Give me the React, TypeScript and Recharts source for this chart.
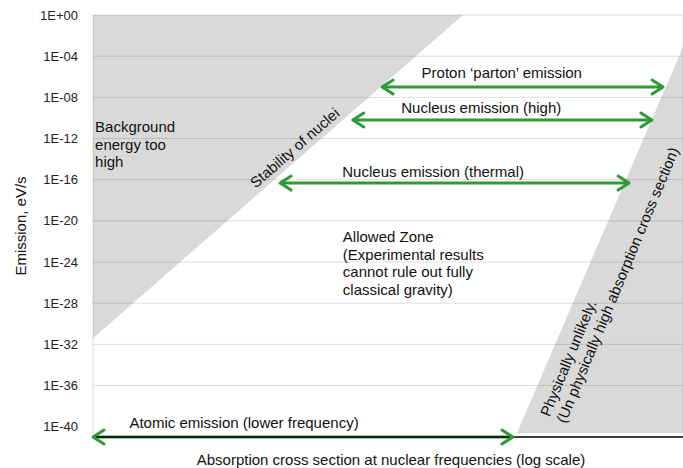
import React from 'react';
import { ComposedChart, Area, Line, XAxis, YAxis, CartesianGrid, ReferenceDot } from 'recharts';

// x = absorption cross section (log, arbitrary units; one gridline per unit)
// y = log10 of emission in eV/s
const xTicks = [1, 2, 3, 4, 5, 6, 7, 8, 9, 10];
const yTicks = [-40, -36, -32, -28, -24, -20, -16, -12, -8, -4, 0];
const gridRows = [-36, -32, -28, -24, -20, -16, -12, -8, -4, 0];

// excluded zones, as [low, high] ranges
const backgroundZone = [
  { x: 0.76, range: [-31.4, 0] },
  { x: 7.07, range: [0, 0] },
];
const unlikelyZone = [
  { x: 7.99, range: [-40.6, -40.6] },
  { x: 10.82, range: [-40.6, -3.1] },
];

// emission ranges (double headed arrows)
const protonArrow = [{ x: 5.69, y: -7.0 }, { x: 10.48, y: -7.0 }];
const nucleusHighArrow = [{ x: 5.19, y: -10.2 }, { x: 10.29, y: -10.2 }];
const nucleusThermalArrow = [{ x: 3.95, y: -16.33 }, { x: 9.9, y: -16.33 }];
const atomicArrow = [{ x: 0.76, y: -41 }, { x: 7.92, y: -41 }];

const notes = [
  { x: 0.795, y: -10.9, lines: ['Background', 'energy too', 'high'], anchor: 'start', angle: 0 },
  { x: 4.2, y: -12.9, lines: ['Stability of nuclei'], anchor: 'middle', angle: -41 },
  { x: 7.73, y: -5.64, lines: ['Proton \u2018parton\u2019 emission'], anchor: 'middle', angle: 0 },
  { x: 7.38, y: -9.04, lines: ['Nucleus emission (high)'], anchor: 'middle', angle: 0 },
  { x: 6.56, y: -15.26, lines: ['Nucleus emission (thermal)'], anchor: 'middle', angle: 0 },
  {
    x: 5.02,
    y: -21.57,
    lines: ['Allowed Zone', '(Experimental results', 'cannot rule out fully', 'classical gravity)'],
    anchor: 'start',
    angle: 0,
  },
  { x: 3.335, y: -39.65, lines: ['Atomic emission (lower frequency)'], anchor: 'middle', angle: 0 },
  {
    x: 8.46,
    y: -38.9,
    lines: ['Physically unlikely.', '(Un physically high absorption cross section)'],
    anchor: 'start',
    angle: -67.5,
  },
];

const GREEN = '#2e9a38';
const FONT = '"Liberation Sans", Arial, Helvetica, sans-serif';

const fmtExp = (v: number) => (v === 0 ? '1E+00' : `1E-${String(-v).padStart(2, '0')}`);

const ArrowHead = (props: any) => {
  const { cx, cy, index } = props;
  if (cx == null || cy == null) return null;
  const dir = index === 0 ? 1 : -1;
  return (
    <path
      key={`head-${index}`}
      d={`M${cx + dir * 11},${cy - 7} L${cx},${cy} L${cx + dir * 11},${cy + 7}`}
      fill="none"
      stroke={GREEN}
      strokeWidth={3}
      strokeLinecap="round"
      strokeLinejoin="round"
    />
  );
};

const Note = ({ viewBox, lines, anchor, angle }: any) => {
  if (!viewBox) return null;
  const x = viewBox.x;
  const y = viewBox.y;
  return (
    <text
      x={x}
      y={y}
      textAnchor={anchor}
      fontSize={15}
      fill="#111"
      transform={angle ? `rotate(${angle}, ${x}, ${y})` : undefined}
    >
      {lines.map((l: string, i: number) => (
        <tspan key={i} x={x} dy={i === 0 ? '0.35em' : 17.5}>
          {l}
        </tspan>
      ))}
    </text>
  );
};

const arrows = [protonArrow, nucleusHighArrow, nucleusThermalArrow, atomicArrow];

export default function App() {
  return (
    <div style={{ position: 'absolute', left: 0, top: 0, fontFamily: FONT }}>
      <ComposedChart width={683} height={468} margin={{ top: 15, right: 0, bottom: 0, left: 0 }}>
        <CartesianGrid stroke="#dedede" horizontalValues={gridRows} />
        <XAxis
          type="number"
          dataKey="x"
          domain={[0.76, 10.82]}
          ticks={xTicks}
          tick={false}
          tickLine={false}
          height={31}
          axisLine={{ stroke: '#000', strokeWidth: 1.5 }}
          label={{
            content: ({ viewBox }: any) => (
              <text
                x={viewBox.x + viewBox.width / 2 + 3}
                y={viewBox.y + 22}
                textAnchor="middle"
                dominantBaseline="central"
                fontSize={15}
                fill="#111"
              >
                Absorption cross section at nuclear frequencies (log scale)
              </text>
            ),
          }}
        />
        <YAxis
          type="number"
          domain={[-41, 0]}
          ticks={yTicks}
          tickFormatter={fmtExp}
          width={93}
          axisLine={false}
          tickLine={false}
          tickSize={0}
          tickMargin={15}
          tick={{ fontSize: 13, fill: '#222' }}
          label={{
            content: ({ viewBox }: any) => {
              const cx = viewBox.x + 20;
              const cy = viewBox.y + viewBox.height / 2;
              return (
                <text
                  x={cx}
                  y={cy}
                  textAnchor="middle"
                  dominantBaseline="central"
                  fontSize={15}
                  fill="#111"
                  transform={`rotate(-90, ${cx}, ${cy})`}
                >
                  Emission, eV/s
                </text>
              );
            },
          }}
        />
        <Area
          data={backgroundZone}
          dataKey="range"
          type="linear"
          stroke="none"
          fill="#000"
          fillOpacity={0.15}
          isAnimationActive={false}
          activeDot={false}
        />
        <Area
          data={unlikelyZone}
          dataKey="range"
          type="linear"
          stroke="none"
          fill="#000"
          fillOpacity={0.15}
          isAnimationActive={false}
          activeDot={false}
        />
        {arrows.map((a, i) => (
          <Line
            key={i}
            data={a}
            dataKey="y"
            type="linear"
            stroke={GREEN}
            strokeWidth={3}
            dot={ArrowHead}
            activeDot={false}
            isAnimationActive={false}
          />
        ))}
        {notes.map((n, i) => (
          <ReferenceDot
            key={i}
            x={n.x}
            y={n.y}
            r={0}
            fill="none"
            stroke="none"
            label={{ content: (p: any) => <Note viewBox={p.viewBox} lines={n.lines} anchor={n.anchor} angle={n.angle} /> }}
          />
        ))}
      </ComposedChart>
    </div>
  );
}
